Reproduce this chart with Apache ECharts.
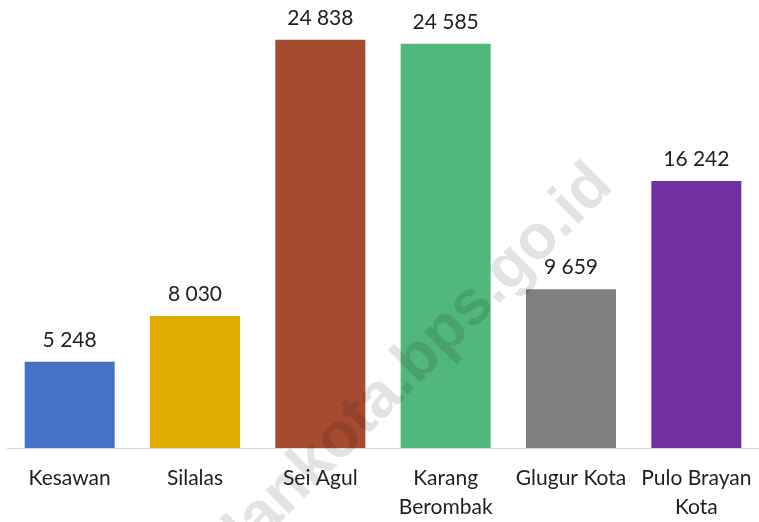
<!DOCTYPE html>
<html>
<head>
<meta charset="utf-8">
<script src="https://cdn.jsdelivr.net/npm/echarts@6/dist/echarts.min.js"></script>
<style>html,body{margin:0;padding:0;background:#fff;}#c{width:759px;height:522px;}</style>
</head>
<body>
<div id="c"></div>
<script>
const categories = ["Kesawan", "Silalas", "Sei Agul", "Karang\nBerombak", "Glugur Kota", "Pulo Brayan\nKota"];
const values = [5248, 8030, 24838, 24585, 9659, 16242];
const barColors = ["#4472C4", "#E1AC00", "#A64A30", "#52B77A", "#7F7F7F", "#7030A0"];

const chart = echarts.init(document.getElementById('c'), null, {renderer: 'canvas'});
const FONT = 'Lato, "Open Sans", sans-serif';
chart.setOption({
  animation: false,
  backgroundColor: '#fff',
  grid: {left: 7, right: 0, top: 0, bottom: 73, containLabel: false},
  xAxis: {
    type: 'category',
    data: categories,
    axisLine: {show: true, lineStyle: {color: '#D9D9D9', width: 1}},
    axisTick: {show: false},
    axisLabel: {color: '#1F1F1F', fontFamily: FONT, fontSize: 21, lineHeight: 29, margin: 16, interval: 0}
  },
  yAxis: {
    type: 'value', min: 0, max: 27250,
    show: false, splitLine: {show: false}
  },
  series: [{
    type: 'bar',
    barWidth: 90,
    data: values.map((v, i) => ({value: v, itemStyle: {color: barColors[i]}})),
    label: {
      show: true, position: 'top', distance: 11,
      color: '#1F1F1F', fontFamily: FONT, fontSize: 21,
      formatter: p => String(p.value).replace(/\B(?=(\d{3})+(?!\d))/g, ' ')
    }
  }],
  graphic: [{
    type: 'text',
    x: 380, y: 398,
    rotation: Math.PI * 45 / 180,
    z: 100,
    style: {
      text: 'medankota.bps.go.id',
      fill: 'rgba(0,0,0,0.11)',
      font: 'bold 63px "Liberation Sans", Arial, sans-serif',
      textAlign: 'center',
      textVerticalAlign: 'middle'
    }
  }]
});
</script>
</body>
</html>
